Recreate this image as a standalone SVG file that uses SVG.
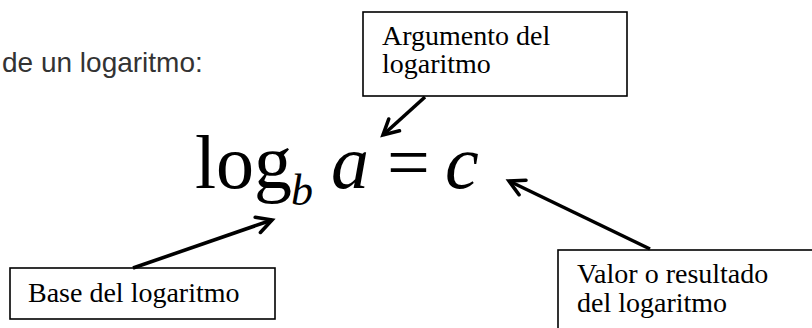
<svg xmlns="http://www.w3.org/2000/svg" width="812" height="328" viewBox="0 0 812 328">
<defs>
<marker id="ah" markerUnits="userSpaceOnUse" viewBox="-18 -10 20 20" refX="0" refY="0" markerWidth="20" markerHeight="20" orient="auto" overflow="visible">
<path d="M-15,-8 L0,0 L-15,8" fill="none" stroke="#000" stroke-width="3.6" stroke-linecap="round" stroke-linejoin="miter"/>
</marker>
</defs>
<style>
.box{fill:#fff;stroke:#000;stroke-width:1.6}
.lbl{font-family:"Liberation Serif","Times New Roman",serif;font-size:28px;fill:#000}
.eq{font-family:"Liberation Serif","Times New Roman",serif;fill:#000}
.intro{font-family:"Liberation Sans",Arial,sans-serif;font-size:28px;fill:#333}
.conn{fill:none;stroke:#000;stroke-width:3.6;marker-end:url(#ah)}
</style>
<rect width="812" height="328" fill="#fff"/>
<text class="intro" x="2" y="72">de un logaritmo:</text>
<g id="equation">
<text class="eq" x="195" y="188" font-size="76">log</text>
<text class="eq" x="291" y="205" font-size="44" font-style="italic">b</text>
<text class="eq" x="331" y="188" font-size="76" font-style="italic">a</text>
<text class="eq" x="387" y="188" font-size="76">=</text>
<text class="eq" x="445" y="188" font-size="76" font-style="italic">c</text>
</g>
<g id="argumento">
<rect class="box" x="363" y="12" width="264" height="84"/>
<text class="lbl" x="382" y="45">Argumento del</text>
<text class="lbl" x="382" y="73">logaritmo</text>
</g>
<g id="base">
<rect class="box" x="10" y="268" width="265" height="51"/>
<text class="lbl" x="28" y="302">Base del logaritmo</text>
</g>
<g id="valor">
<rect class="box" x="558" y="250" width="260" height="90"/>
<text class="lbl" x="577" y="283">Valor o resultado</text>
<text class="lbl" x="577" y="312">del logaritmo</text>
</g>
<g id="connectors">
<line class="conn" x1="425" y1="97" x2="383" y2="135"/>
<line class="conn" x1="133" y1="268" x2="272" y2="220"/>
<line class="conn" x1="650" y1="249" x2="509" y2="181"/>
</g>
</svg>
